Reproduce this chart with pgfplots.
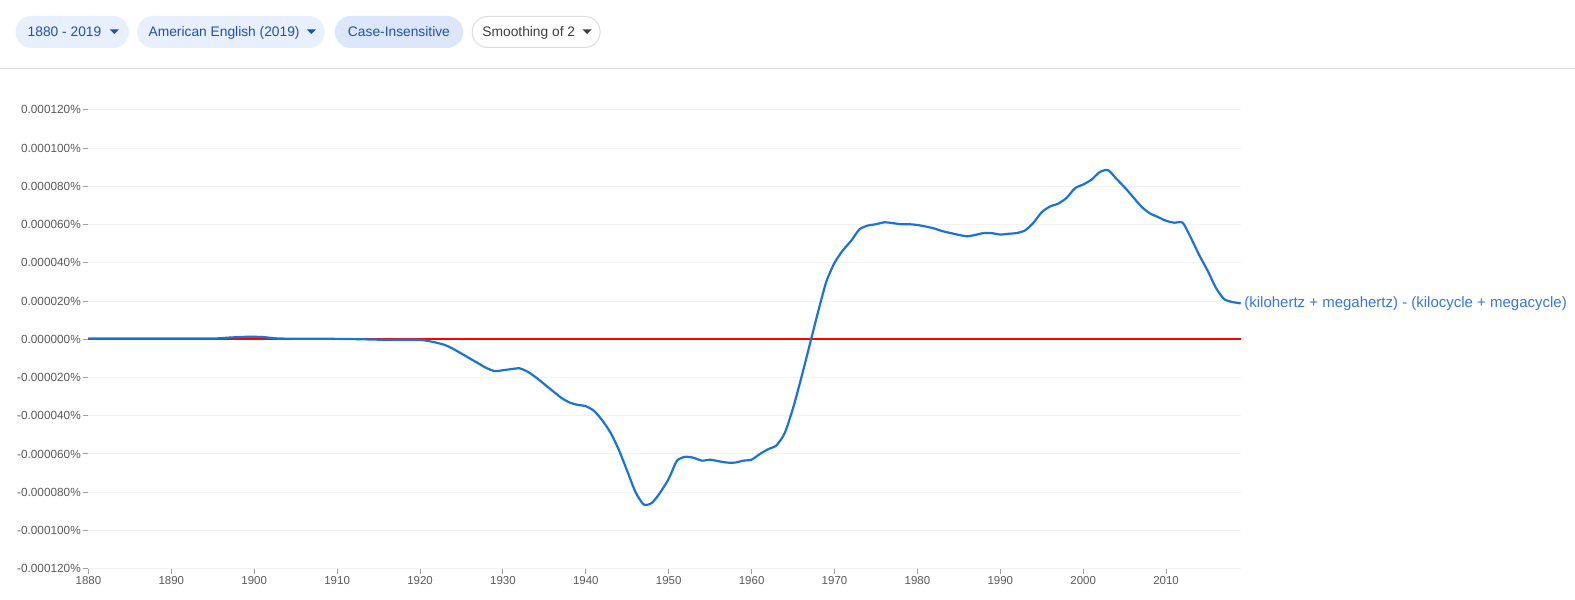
\documentclass[border=0pt]{standalone}
\usepackage{fontspec}
\setmainfont{Liberation Sans}
\usepackage{pgfplots}
\pgfplotsset{compat=1.18}

\definecolor{pillbg}{HTML}{E8F0FE}
\definecolor{pillbgdark}{HTML}{DCE7FB}
\definecolor{pilltext}{HTML}{1D4FB5}
\definecolor{pillborder}{HTML}{DADCE0}
\definecolor{darktext}{HTML}{3C4043}
\definecolor{gridgray}{HTML}{F2F2F2}
\definecolor{tickgray}{HTML}{A0A0A0}
\definecolor{ticktext}{HTML}{5A5A5A}
\definecolor{seriesblue}{HTML}{1A74D6}
\definecolor{labelblue}{HTML}{3878DA}

% (kilohertz + megahertz) - (kilocycle + megacycle), in units of 0.000001%
\pgfplotstableread{
year  val
1880  0.4
1885  0.4
1890  0.4
1895  0.4
1897  0.9
1899  1.3
1901  1.2
1903  0.4
1908  0.3
1912  0.1
1916 -0.3
1918 -0.2
1920 -0.3
1921 -0.9
1922 -1.8
1923 -3
1924 -5
1925 -7.5
1926 -10
1927 -12.5
1928 -15
1929 -16.6
1930 -16.2
1931 -15.6
1932 -15.2
1933 -17
1934 -20
1935 -23.5
1936 -27
1937 -30.5
1938 -33
1939 -34.3
1940 -35
1941 -37.5
1942 -42.5
1943 -49
1944 -58
1945 -69
1946 -80
1947 -86.5
1948 -85.5
1949 -80
1950 -73
1951 -63.5
1952 -61.5
1953 -62
1954 -63.5
1955 -63
1956 -63.8
1957 -64.5
1958 -64.5
1959 -63.5
1960 -63
1961 -60
1962 -57.5
1963 -55.5
1964 -49
1965 -36
1966 -20
1967 -3
1968 14
1969 30
1970 40
1971 46.5
1972 51.5
1973 57.5
1974 59.5
1975 60.2
1976 61.2
1977 60.8
1978 60.2
1979 60.2
1980 59.8
1981 59
1982 58
1983 56.6
1984 55.6
1985 54.6
1986 53.9
1987 54.6
1988 55.6
1989 55.5
1990 54.8
1991 55.2
1992 55.6
1993 57
1994 61
1995 66.5
1996 69.5
1997 71
1998 74
1999 79
2000 81
2001 83.5
2002 87.5
2003 88.5
2004 84
2005 79.5
2006 74.5
2007 69.5
2008 66
2009 64
2010 62
2011 61
2012 61
2013 53
2014 44
2015 36
2016 27
2017 21
2018 19.5
2019 18.8
}\ngram

\newcommand\pillfont{\fontsize{13.8bp}{16bp}\selectfont}

\begin{document}
\begin{tikzpicture}
% page
\fill[white] (0bp,0bp) rectangle (1575bp,-600bp);

% header pills
\fill[pillbg] (15bp,-16bp) [rounded corners=16bp] rectangle (128.6bp,-48bp);
\node[anchor=base west, inner sep=0pt, text=pilltext, font=\pillfont] at (27bp,-36.5bp) {1880 - 2019};
\fill[pilltext] (109.5bp,-29.5bp) -- (118.5bp,-29.5bp) -- (114bp,-34bp) -- cycle;

\fill[pillbg] (136.6bp,-16bp) [rounded corners=16bp] rectangle (324.4bp,-48bp);
\node[anchor=base west, inner sep=0pt, text=pilltext, font=\pillfont] at (148bp,-36.5bp) {American English (2019)};
\fill[pilltext] (306.5bp,-29.5bp) -- (315.5bp,-29.5bp) -- (311bp,-34bp) -- cycle;

\fill[pillbgdark] (334.5bp,-16bp) [rounded corners=16bp] rectangle (463bp,-48bp);
\node[anchor=base west, inner sep=0pt, text=pilltext, font=\pillfont] at (347.5bp,-36.5bp) {Case-Insensitive};

\draw[pillborder, line width=1bp, fill=white] (472bp,-16.5bp) [rounded corners=15.5bp] rectangle (600bp,-47.5bp);
\node[anchor=base west, inner sep=0pt, text=darktext, font=\pillfont] at (482bp,-36.5bp) {Smoothing of 2};
\fill[darktext] (582.5bp,-29.5bp) -- (591.5bp,-29.5bp) -- (587bp,-34bp) -- cycle;

\draw[pillborder, line width=1bp] (0bp,-68.5bp) -- (1575bp,-68.5bp);

\begin{axis}[
    at={(88bp,-569bp)}, anchor=south west,
    scale only axis, width=1153bp, height=459bp,
    xmin=1880, xmax=2019, ymin=-120, ymax=120,
    axis line style={draw=none},
    xtick={1880,1890,...,2010},
    ytick={-120,-100,...,120},
    yticklabels={-0.000120\%,-0.000100\%,-0.000080\%,-0.000060\%,-0.000040\%,-0.000020\%,0.000000\%,0.000020\%,0.000040\%,0.000060\%,0.000080\%,0.000100\%,0.000120\%},
    xtick pos=bottom, ytick pos=left,
    tick align=outside, major tick length=5.5bp,
    tick style={color=tickgray, line width=1bp},
    ymajorgrids, grid style={color=gridgray, line width=1bp},
    x tick label style={font=\fontsize{11.5bp}{13bp}\selectfont, text=ticktext,
        /pgf/number format/1000 sep={}, /pgf/number format/assume math mode=true,
        inner sep=2bp},
    y tick label style={font=\fontsize{11.8bp}{13bp}\selectfont, text=ticktext, inner sep=2bp},
    clip=false,
]
\addplot[red, line width=2bp] coordinates {(1880,0) (2019,0)};
\addplot[seriesblue, line width=2.2bp, smooth, tension=0.4] table[x=year, y=val] {\ngram};
\coordinate (endpt) at (axis cs:2019,18.8);
\end{axis}

\node[anchor=west, inner sep=0pt, text=labelblue, font=\fontsize{15bp}{17bp}\selectfont] at ([xshift=3.5bp]endpt) {(kilohertz + megahertz) - (kilocycle + megacycle)};
\end{tikzpicture}
\end{document}
